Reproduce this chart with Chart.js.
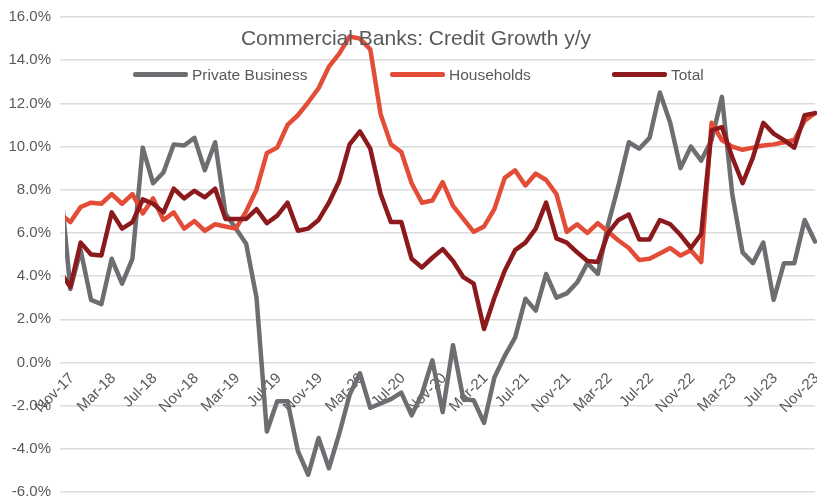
<!DOCTYPE html>
<html>
<head>
<meta charset="utf-8">
<title>Commercial Banks: Credit Growth y/y</title>
<script src="https://cdn.jsdelivr.net/npm/chart.js@4.4.1/dist/chart.umd.min.js"></script>
<style>
    body { margin: 0; background: #fff; }
    #wrap { position: relative; width: 817px; height: 501px; font-family: "Liberation Sans", Arial, sans-serif; color: #595959; }
    #grafico { position: absolute; left: 0; top: 0; }
    .titulo { position: absolute; left: 0; width: 832px; top: 27px; text-align: center; font-size: 21px; line-height: 21px; }
    .leg-linha { position: absolute; top: 72px; width: 55px; height: 5px; border-radius: 2px; }
    .leg-texto { position: absolute; top: 66px; font-size: 15.5px; line-height: 18px; white-space: nowrap; }
</style>
</head>
<body>
<div id="wrap">
    <canvas id="grafico" width="817" height="501"></canvas>
    <div class="titulo">Commercial Banks: Credit Growth y/y</div>
    <div id="legenda"></div>
</div>
<script>
// meses (Nov-17 .. Dec-23)
const meses = [
    'Nov-17', 'Dec-17', 'Jan-18', 'Feb-18', 'Mar-18', 'Apr-18', 'May-18', 'Jun-18', 'Jul-18', 'Aug-18', 'Sep-18', 'Oct-18',
    'Nov-18', 'Dec-18', 'Jan-19', 'Feb-19', 'Mar-19', 'Apr-19', 'May-19', 'Jun-19', 'Jul-19', 'Aug-19', 'Sep-19', 'Oct-19',
    'Nov-19', 'Dec-19', 'Jan-20', 'Feb-20', 'Mar-20', 'Apr-20', 'May-20', 'Jun-20', 'Jul-20', 'Aug-20', 'Sep-20', 'Oct-20',
    'Nov-20', 'Dec-20', 'Jan-21', 'Feb-21', 'Mar-21', 'Apr-21', 'May-21', 'Jun-21', 'Jul-21', 'Aug-21', 'Sep-21', 'Oct-21',
    'Nov-21', 'Dec-21', 'Jan-22', 'Feb-22', 'Mar-22', 'Apr-22', 'May-22', 'Jun-22', 'Jul-22', 'Aug-22', 'Sep-22', 'Oct-22',
    'Nov-22', 'Dec-22', 'Jan-23', 'Feb-23', 'Mar-23', 'Apr-23', 'May-23', 'Jun-23', 'Jul-23', 'Aug-23', 'Sep-23', 'Oct-23',
    'Nov-23', 'Dec-23'
];

const privateBusiness = [
    8.5, 3.4, 5.2, 2.9, 2.7, 4.8, 3.65, 4.8, 9.95, 8.3, 8.8, 10.1,
    10.05, 10.4, 8.9, 10.2, 6.9, 6.2, 5.5, 3.0, -3.2, -1.8, -1.8, -4.1,
    -5.2, -3.5, -4.9, -3.3, -1.5, -0.5, -2.1, -1.9, -1.7, -1.4, -2.45, -1.45,
    0.1, -2.3, 0.8, -1.7, -1.75, -2.8, -0.7, 0.3, 1.15, 2.95, 2.4, 4.1,
    3.0, 3.2, 3.7, 4.6, 4.1, 6.4, 8.2, 10.2, 9.9, 10.4, 12.5, 11.1,
    9.0, 10.0, 9.35, 10.3, 12.3, 7.8, 5.1, 4.6, 5.55, 2.9, 4.6, 4.6,
    6.6, 5.6
];

const households = [
    6.9, 6.5, 7.2, 7.4, 7.35, 7.8, 7.35, 7.8, 6.9, 7.6, 6.6, 6.95,
    6.2, 6.55, 6.1, 6.4, 6.3, 6.2, 7.0, 8.0, 9.7, 9.95, 11.0, 11.45,
    12.05, 12.7, 13.7, 14.3, 15.1, 15.0, 14.5, 11.5, 10.1, 9.75, 8.3, 7.4,
    7.5, 8.35, 7.25, 6.65, 6.05, 6.3, 7.1, 8.55, 8.9, 8.2, 8.75, 8.45,
    7.8, 6.05, 6.4, 6.0, 6.45, 6.05, 5.65, 5.3, 4.75, 4.8, 5.05, 5.3,
    4.95, 5.2, 4.65, 11.1, 10.3, 10.0, 9.85, 9.95, 10.05, 10.1, 10.2, 10.3,
    11.2, 11.55
];

const total = [
    4.2, 3.5, 5.55, 5.0, 4.95, 6.95, 6.2, 6.5, 7.55, 7.35, 6.95, 8.05,
    7.6, 7.95, 7.65, 8.05, 6.65, 6.65, 6.65, 7.1, 6.45, 6.8, 7.4, 6.1,
    6.2, 6.6, 7.4, 8.4, 10.1, 10.7, 9.9, 7.8, 6.5, 6.5, 4.8, 4.4,
    4.85, 5.25, 4.7, 3.95, 3.65, 1.55, 3.0, 4.25, 5.2, 5.55, 6.2, 7.4,
    5.75, 5.55, 5.1, 4.7, 4.65, 6.0, 6.6, 6.85, 5.7, 5.7, 6.6, 6.4,
    5.9, 5.3, 5.95, 10.75, 10.9, 9.5, 8.3, 9.5, 11.1, 10.6, 10.3, 9.95,
    11.45, 11.55
];

const series = [
    { nome: 'Private Business', dados: privateBusiness, cor: '#6D6E71', ordem: 3, legX: 133 },
    { nome: 'Households', dados: households, cor: '#E34D37', ordem: 2, legX: 390 },
    { nome: 'Total', dados: total, cor: '#8C1A1C', ordem: 1, legX: 612 }
];

var corTexto = '#595959';
var fonte = { family: '"Liberation Sans", Arial, sans-serif', size: 15 };

// legenda em html (posicao igual ao original)
var leg = document.getElementById('legenda');
series.forEach(function (s) {
    var linha = document.createElement('div');
    linha.className = 'leg-linha';
    linha.style.left = s.legX + 'px';
    linha.style.background = s.cor;
    var txt = document.createElement('div');
    txt.className = 'leg-texto';
    txt.style.left = (s.legX + 59) + 'px';
    txt.textContent = s.nome;
    leg.appendChild(linha);
    leg.appendChild(txt);
});

function semPadding(s) { s.paddingLeft = 0; s.paddingRight = 0; s.paddingTop = 0; s.paddingBottom = 0; }

new Chart(document.getElementById('grafico'), {
    type: 'line',
    data: {
        labels: meses,
        datasets: series.map(function (s) {
            // o primeiro mes fica meio cortado na borda esquerda, como no original
            return { label: s.nome, data: s.dados, borderColor: s.cor, backgroundColor: s.cor, order: s.ordem,
                     clip: { left: -5, top: false, right: false, bottom: false } };
        })
    },
    options: {
        responsive: false,
        animation: false,
        layout: { padding: { left: 8, right: 2, top: 17, bottom: 9 } },
        elements: {
            point: { radius: 0 },
            line: { tension: 0, borderWidth: 4.5, borderJoinStyle: 'round', borderCapStyle: 'round' }
        },
        plugins: { legend: { display: false }, title: { display: false }, tooltip: { enabled: false } },
        scales: {
            x: {
                position: { y: 0 },
                offset: false,
                grid: { display: false, drawTicks: false },
                border: { display: false },
                ticks: {
                    autoSkip: false, minRotation: 45, maxRotation: 45, labelOffset: 12, padding: 7,
                    color: corTexto, font: fonte,
                    callback: function (v, i) { return i % 4 === 0 ? meses[i] : ''; }
                },
                // eixo no zero: nao deixar os rotulos empurrarem a area do grafico
                afterFit: function (s) { semPadding(s); s.height = 0; }
            },
            y: {
                min: -6, max: 16,
                grid: { color: '#DCDCDC', lineWidth: 1.5, drawTicks: false },
                border: { display: false },
                ticks: { stepSize: 2, padding: 9, color: corTexto, font: fonte, callback: function (v) { return v.toFixed(1) + '%'; } },
                afterFit: function (s) { s.width = 52; semPadding(s); }
            }
        }
    }
});
</script>
</body>
</html>
